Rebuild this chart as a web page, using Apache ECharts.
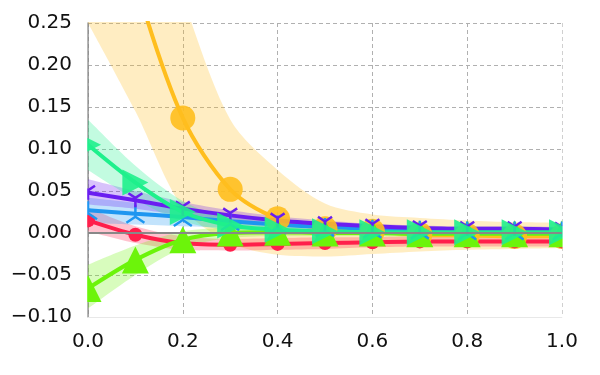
<!DOCTYPE html>
<html>
<head>
<meta charset="utf-8">
<script src="https://cdn.jsdelivr.net/npm/echarts@6/dist/echarts.min.js"></script>
<style>
  html, body { margin: 0; padding: 0; background: #fff; }
  #chart { width: 600px; height: 375px; }
</style>
</head>
<body>
<div id="chart"></div>
<script>
// x positions (category ticks, every other one labelled)
const xs = ['0.0', '0.1', '0.2', '0.3', '0.4', '0.5', '0.6', '0.7', '0.8', '0.9', '1.0']

// orange (circles)
const orangeMean = [0.52, 0.30, 0.137, 0.052, 0.017, 0.005, 0.002, -0.002, -0.003, -0.004, -0.004]
const orangeLow = [0.25, 0.145, 0.03, -0.012, -0.026, -0.028, -0.025, -0.022, -0.020, -0.019, -0.018]
const orangeHigh = [0.75, 0.45, 0.28, 0.135, 0.075, 0.035, 0.022, 0.018, 0.015, 0.013, 0.012]

// red (small circles)
const redMean = [0.015, -0.002, -0.012, -0.014, -0.013, -0.012, -0.011, -0.010, -0.010, -0.010, -0.010]
const redLow = [0.002, -0.012, -0.020, -0.021, -0.020, -0.019, -0.017, -0.016, -0.016, -0.016, -0.016]
const redHigh = [0.030, 0.008, -0.004, -0.007, -0.006, -0.005, -0.005, -0.004, -0.004, -0.004, -0.004]

// lime (triangle up)
const limeMean = [-0.066, -0.032, -0.008, 0.000, 0.001, 0.000, 0.000, -0.001, -0.001, -0.001, -0.001]
const limeLow = [-0.090, -0.050, -0.018, -0.006, -0.004, -0.004, -0.004, -0.005, -0.005, -0.005, -0.005]
const limeHigh = [-0.038, -0.015, 0.002, 0.006, 0.006, 0.004, 0.004, 0.003, 0.003, 0.003, 0.003]

// blue (tri up)
const blueMean = [0.027, 0.023, 0.019, 0.014, 0.010, 0.007, 0.005, 0.004, 0.003, 0.003, 0.003]
const blueLow = [0.012, 0.010, 0.008, 0.006, 0.004, 0.002, 0.001, 0.000, 0.000, 0.000, 0.000]
const blueHigh = [0.042, 0.036, 0.030, 0.022, 0.016, 0.012, 0.009, 0.007, 0.006, 0.006, 0.006]

// purple (tri down)
const purpleMean = [0.048, 0.039, 0.029, 0.021, 0.015, 0.011, 0.008, 0.006, 0.005, 0.005, 0.004]
const purpleLow = [0.034, 0.029, 0.021, 0.015, 0.010, 0.007, 0.005, 0.003, 0.002, 0.002, 0.002]
const purpleHigh = [0.064, 0.050, 0.037, 0.027, 0.020, 0.015, 0.011, 0.009, 0.008, 0.008, 0.007]

// teal (triangle right)
const tealMean = [0.105, 0.060, 0.025, 0.009, 0.004, 0.002, 0.001, 0.001, 0.001, 0.001, 0.001]
const tealLow = [0.075, 0.040, 0.014, 0.003, 0.000, -0.001, -0.002, -0.002, -0.002, -0.002, -0.002]
const tealHigh = [0.135, 0.080, 0.038, 0.016, 0.009, 0.006, 0.004, 0.004, 0.004, 0.004, 0.004]

// band = invisible lower line + stacked difference
const band = (name, low, high, fill) => [
  {
    name: name + '-low',
    type: 'line',
    stack: name,
    stackStrategy: 'all',
    smooth: 0.3,
    symbol: 'none',
    z: 1,
    lineStyle: { opacity: 0 },
    data: low
  },
  {
    name: name + '-band',
    type: 'line',
    stack: name,
    stackStrategy: 'all',
    smooth: 0.3,
    symbol: 'none',
    z: 1,
    lineStyle: { opacity: 0 },
    areaStyle: { color: fill, opacity: 1 },
    data: high.map((h, i) => +(h - low[i]).toFixed(4))
  }
]

const line = (name, ys, color, symbol, size, extra) => Object.assign({
  name: name,
  type: 'line',
  smooth: 0.3,
  z: 3,
  symbol: symbol,
  symbolSize: size,
  showAllSymbol: true,
  lineStyle: { color: color, width: 4 },
  itemStyle: { color: color },
  data: ys
}, extra || {})

const triDown = 'path://M10,10L10,20M10,10L1.34,5M10,10L18.66,5'
const triUp = 'path://M10,10L10,0M10,10L1.34,15M10,10L18.66,15'

const fmt = (v, d) => v.toFixed(d).replace('-', '\u2212')

const chart = echarts.init(document.getElementById('chart'))

const option = {
  animation: false,
  backgroundColor: '#fff',
  grid: { left: 88, right: 38, top: 23, bottom: 58 },
  // white masks so markers are cut at the plot edges
  graphic: [
    { type: 'rect', z: 100, shape: { x: 74, y: 0, width: 13.2, height: 318 }, style: { fill: '#fff' } },
    { type: 'rect', z: 100, shape: { x: 562.6, y: 0, width: 40, height: 318 }, style: { fill: '#fff' } }
  ],
  xAxis: {
    type: 'category',
    data: xs,
    boundaryGap: false,
    axisLine: { onZero: false, lineStyle: { color: '#e8e8e8', width: 1 } },
    axisTick: { show: false },
    axisLabel: {
      interval: 1,
      color: '#111',
      fontSize: 20,
      fontFamily: 'DejaVu Sans',
      margin: 15
    },
    splitLine: { show: true, interval: 1, lineStyle: { color: '#b0b0b0', type: [4, 3], width: 1 } }
  },
  yAxis: {
    type: 'value',
    min: -0.1,
    max: 0.25,
    interval: 0.05,
    axisLine: { show: true, onZero: false, lineStyle: { color: '#888', width: 1.5 } },
    axisTick: { show: false },
    axisLabel: {
      color: '#111',
      fontSize: 20,
      fontFamily: 'DejaVu Sans',
      margin: 16,
      formatter: (v) => fmt(v, 2)
    },
    splitLine: { show: true, lineStyle: { color: '#b0b0b0', type: [4, 3], width: 1 } }
  },
  series: [
    {
      name: 'zero',
      type: 'line',
      data: [],
      z: 0,
      markLine: {
        silent: true,
        symbol: 'none',
        label: { show: false },
        lineStyle: { color: '#888', type: 'solid', width: 2 },
        data: [{ yAxis: 0 }]
      }
    },
    ...band('orange', orangeLow, orangeHigh, 'rgba(255,190,30,0.27)'),
    ...band('red', redLow, redHigh, 'rgba(255,30,75,0.27)'),
    ...band('lime', limeLow, limeHigh, 'rgba(110,245,10,0.27)'),
    ...band('blue', blueLow, blueHigh, 'rgba(30,150,245,0.27)'),
    ...band('purple', purpleLow, purpleHigh, 'rgba(110,30,240,0.27)'),
    ...band('teal', tealLow, tealHigh, 'rgba(30,240,140,0.27)'),
    line('orange', orangeMean, '#FFBE1E', 'circle', 25, { itemStyle: { color: '#FFBE1E', opacity: 0.9 } }),
    line('red', redMean, '#FF1F4B', 'circle', 14),
    line('lime', limeMean, '#6CF40A', 'triangle', 27),
    line('blue', blueMean, '#1E96F0', triUp, 18, {
      itemStyle: { color: 'rgba(0,0,0,0)', borderColor: '#1E96F0', borderWidth: 2.5 }
    }),
    line('purple', purpleMean, '#6A1EF0', triDown, 14, {
      itemStyle: { color: 'rgba(0,0,0,0)', borderColor: '#6A1EF0', borderWidth: 2.5 }
    }),
    line('teal', tealMean, '#1EF08C', 'triangle', 26, { symbolRotate: -90, itemStyle: { color: '#1EF08C', opacity: 0.9 } })
  ]
}

chart.setOption(option)
</script>
</body>
</html>
